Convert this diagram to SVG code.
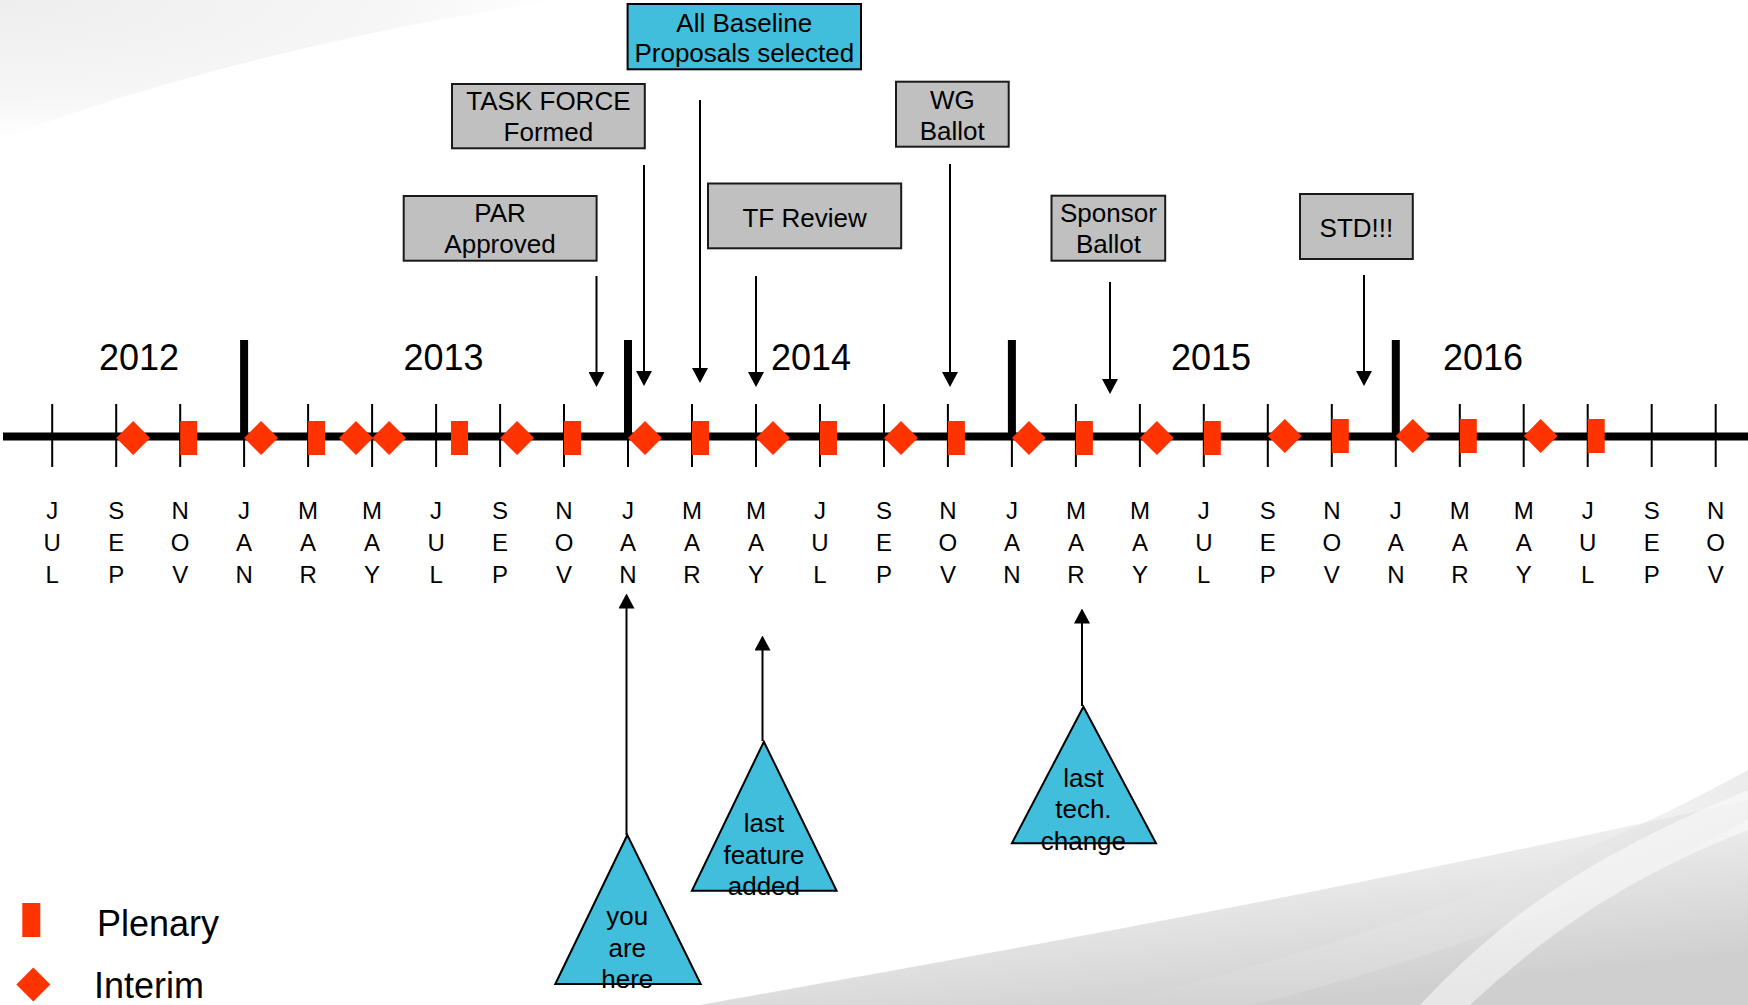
<svg xmlns="http://www.w3.org/2000/svg" xmlns:xlink="http://www.w3.org/1999/xlink" width="1748" height="1005" viewBox="0 0 1748 1005">
<defs>
<style>
text{font-family:"Liberation Sans",Arial,sans-serif;fill:#000}
.mon{font-size:24px;text-anchor:middle}
.yr{font-size:36px;text-anchor:middle}
.bt{font-size:26px;text-anchor:middle}
.leg{font-size:36px}
.box{fill:#C0C0C0;stroke:#1a1a1a;stroke-width:2}
.cyan{fill:#41BEDC;stroke:#000;stroke-width:2}
.arr{stroke:#000;stroke-width:2;fill:none;marker-end:url(#ah)}
.tick{stroke:#000;stroke-width:2}
.ybar{stroke:#000;stroke-width:8}
.red{fill:#FF3300}
</style>
<marker id="ah" markerUnits="userSpaceOnUse" markerWidth="15" markerHeight="16" viewBox="0 0 15 16" refX="5" refY="8" orient="auto">
<path d="M0,0 L15,8 L0,16 Z" fill="#000"/>
</marker>
<path id="dia" class="red" d="M0,-17 L17,0 L0,17 L-17,0 Z"/>
<rect id="plen" class="red" x="0" y="-17" width="17" height="34"/>
<radialGradient id="bg1" cx="0" cy="0" r="1" gradientUnits="objectBoundingBox">
<stop offset="0" stop-color="#eeeeee"/>
<stop offset="0.7" stop-color="#f6f6f6"/>
<stop offset="1" stop-color="#ffffff"/>
</radialGradient>
<linearGradient id="bg2" x1="0" y1="0" x2="0.55" y2="1">
<stop offset="0" stop-color="#ffffff" stop-opacity="0"/>
<stop offset="0.5" stop-color="#ececec"/>
<stop offset="1" stop-color="#cfcfcf"/>
</linearGradient>
<linearGradient id="bg3" x1="0" y1="0" x2="1" y2="0">
<stop offset="0" stop-color="#ffffff" stop-opacity="0"/>
<stop offset="1" stop-color="#d8d8d8"/>
</linearGradient>
</defs>
<g id="background">
<rect x="0" y="0" width="1748" height="1005" fill="#fff"/>
<path d="M0,0 L560,0 C380,25 150,80 0,140 Z" fill="url(#bg1)"/>
<path d="M700,1005 C950,960 1300,900 1748,800 L1748,1005 Z" fill="url(#bg2)"/>
<path d="M1100,1005 C1300,960 1550,880 1748,770 L1748,820 C1600,900 1400,970 1250,1005 Z" fill="url(#bg3)" opacity="0.5"/>
<path d="M1420,1005 C1500,920 1580,860 1748,790 L1748,830 C1620,880 1540,940 1470,1005 Z" fill="#ffffff" opacity="0.5"/>
</g>
<g id="timeline">
<line x1="3" y1="436.5" x2="1748" y2="436.5" stroke="#000" stroke-width="8"/>
<g id="ticks">
<line class="tick" x1="52.2" y1="404" x2="52.2" y2="467"/>
<line class="tick" x1="116.2" y1="404" x2="116.2" y2="467"/>
<line class="tick" x1="180.2" y1="404" x2="180.2" y2="467"/>
<line class="tick" x1="244.1" y1="404" x2="244.1" y2="467"/>
<line class="tick" x1="308.1" y1="404" x2="308.1" y2="467"/>
<line class="tick" x1="372.1" y1="404" x2="372.1" y2="467"/>
<line class="tick" x1="436.1" y1="404" x2="436.1" y2="467"/>
<line class="tick" x1="500.1" y1="404" x2="500.1" y2="467"/>
<line class="tick" x1="564" y1="404" x2="564" y2="467"/>
<line class="tick" x1="628" y1="404" x2="628" y2="467"/>
<line class="tick" x1="692" y1="404" x2="692" y2="467"/>
<line class="tick" x1="756" y1="404" x2="756" y2="467"/>
<line class="tick" x1="820" y1="404" x2="820" y2="467"/>
<line class="tick" x1="884" y1="404" x2="884" y2="467"/>
<line class="tick" x1="947.9" y1="404" x2="947.9" y2="467"/>
<line class="tick" x1="1011.9" y1="404" x2="1011.9" y2="467"/>
<line class="tick" x1="1075.9" y1="404" x2="1075.9" y2="467"/>
<line class="tick" x1="1139.9" y1="404" x2="1139.9" y2="467"/>
<line class="tick" x1="1203.8" y1="404" x2="1203.8" y2="467"/>
<line class="tick" x1="1267.8" y1="404" x2="1267.8" y2="467"/>
<line class="tick" x1="1331.8" y1="404" x2="1331.8" y2="467"/>
<line class="tick" x1="1395.8" y1="404" x2="1395.8" y2="467"/>
<line class="tick" x1="1459.8" y1="404" x2="1459.8" y2="467"/>
<line class="tick" x1="1523.7" y1="404" x2="1523.7" y2="467"/>
<line class="tick" x1="1587.7" y1="404" x2="1587.7" y2="467"/>
<line class="tick" x1="1651.7" y1="404" x2="1651.7" y2="467"/>
<line class="tick" x1="1715.7" y1="404" x2="1715.7" y2="467"/>
</g>
<g id="yearbars">
<line class="ybar" x1="244.1" y1="340" x2="244.1" y2="437"/>
<line class="ybar" x1="628" y1="340" x2="628" y2="437"/>
<line class="ybar" x1="1011.9" y1="340" x2="1011.9" y2="437"/>
<line class="ybar" x1="1395.8" y1="340" x2="1395.8" y2="437"/>
</g>
<g id="years">
<text class="yr" x="139" y="370">2012</text>
<text class="yr" x="443.5" y="370">2013</text>
<text class="yr" x="811" y="370">2014</text>
<text class="yr" x="1211" y="370">2015</text>
<text class="yr" x="1483" y="370">2016</text>
</g>
<g id="months">
<text class="mon" y="519"><tspan x="52.2">J</tspan><tspan x="52.2" dy="32">U</tspan><tspan x="52.2" dy="32">L</tspan></text>
<text class="mon" y="519"><tspan x="116.2">S</tspan><tspan x="116.2" dy="32">E</tspan><tspan x="116.2" dy="32">P</tspan></text>
<text class="mon" y="519"><tspan x="180.2">N</tspan><tspan x="180.2" dy="32">O</tspan><tspan x="180.2" dy="32">V</tspan></text>
<text class="mon" y="519"><tspan x="244.1">J</tspan><tspan x="244.1" dy="32">A</tspan><tspan x="244.1" dy="32">N</tspan></text>
<text class="mon" y="519"><tspan x="308.1">M</tspan><tspan x="308.1" dy="32">A</tspan><tspan x="308.1" dy="32">R</tspan></text>
<text class="mon" y="519"><tspan x="372.1">M</tspan><tspan x="372.1" dy="32">A</tspan><tspan x="372.1" dy="32">Y</tspan></text>
<text class="mon" y="519"><tspan x="436.1">J</tspan><tspan x="436.1" dy="32">U</tspan><tspan x="436.1" dy="32">L</tspan></text>
<text class="mon" y="519"><tspan x="500.1">S</tspan><tspan x="500.1" dy="32">E</tspan><tspan x="500.1" dy="32">P</tspan></text>
<text class="mon" y="519"><tspan x="564">N</tspan><tspan x="564" dy="32">O</tspan><tspan x="564" dy="32">V</tspan></text>
<text class="mon" y="519"><tspan x="628">J</tspan><tspan x="628" dy="32">A</tspan><tspan x="628" dy="32">N</tspan></text>
<text class="mon" y="519"><tspan x="692">M</tspan><tspan x="692" dy="32">A</tspan><tspan x="692" dy="32">R</tspan></text>
<text class="mon" y="519"><tspan x="756">M</tspan><tspan x="756" dy="32">A</tspan><tspan x="756" dy="32">Y</tspan></text>
<text class="mon" y="519"><tspan x="820">J</tspan><tspan x="820" dy="32">U</tspan><tspan x="820" dy="32">L</tspan></text>
<text class="mon" y="519"><tspan x="884">S</tspan><tspan x="884" dy="32">E</tspan><tspan x="884" dy="32">P</tspan></text>
<text class="mon" y="519"><tspan x="947.9">N</tspan><tspan x="947.9" dy="32">O</tspan><tspan x="947.9" dy="32">V</tspan></text>
<text class="mon" y="519"><tspan x="1011.9">J</tspan><tspan x="1011.9" dy="32">A</tspan><tspan x="1011.9" dy="32">N</tspan></text>
<text class="mon" y="519"><tspan x="1075.9">M</tspan><tspan x="1075.9" dy="32">A</tspan><tspan x="1075.9" dy="32">R</tspan></text>
<text class="mon" y="519"><tspan x="1139.9">M</tspan><tspan x="1139.9" dy="32">A</tspan><tspan x="1139.9" dy="32">Y</tspan></text>
<text class="mon" y="519"><tspan x="1203.8">J</tspan><tspan x="1203.8" dy="32">U</tspan><tspan x="1203.8" dy="32">L</tspan></text>
<text class="mon" y="519"><tspan x="1267.8">S</tspan><tspan x="1267.8" dy="32">E</tspan><tspan x="1267.8" dy="32">P</tspan></text>
<text class="mon" y="519"><tspan x="1331.8">N</tspan><tspan x="1331.8" dy="32">O</tspan><tspan x="1331.8" dy="32">V</tspan></text>
<text class="mon" y="519"><tspan x="1395.8">J</tspan><tspan x="1395.8" dy="32">A</tspan><tspan x="1395.8" dy="32">N</tspan></text>
<text class="mon" y="519"><tspan x="1459.8">M</tspan><tspan x="1459.8" dy="32">A</tspan><tspan x="1459.8" dy="32">R</tspan></text>
<text class="mon" y="519"><tspan x="1523.7">M</tspan><tspan x="1523.7" dy="32">A</tspan><tspan x="1523.7" dy="32">Y</tspan></text>
<text class="mon" y="519"><tspan x="1587.7">J</tspan><tspan x="1587.7" dy="32">U</tspan><tspan x="1587.7" dy="32">L</tspan></text>
<text class="mon" y="519"><tspan x="1651.7">S</tspan><tspan x="1651.7" dy="32">E</tspan><tspan x="1651.7" dy="32">P</tspan></text>
<text class="mon" y="519"><tspan x="1715.7">N</tspan><tspan x="1715.7" dy="32">O</tspan><tspan x="1715.7" dy="32">V</tspan></text>
</g>
<g id="meetings">
<use href="#dia" x="133.2" y="438"/>
<use href="#plen" x="180.2" y="438"/>
<use href="#dia" x="261.1" y="438"/>
<use href="#plen" x="308.1" y="438"/>
<use href="#dia" x="356" y="438"/>
<use href="#dia" x="389.1" y="438"/>
<use href="#plen" x="451" y="438"/>
<use href="#dia" x="517.1" y="438"/>
<use href="#plen" x="564" y="438"/>
<use href="#dia" x="645" y="438"/>
<use href="#plen" x="692" y="438"/>
<use href="#dia" x="773" y="438"/>
<use href="#plen" x="820" y="438"/>
<use href="#dia" x="901" y="438"/>
<use href="#plen" x="947.9" y="438"/>
<use href="#dia" x="1028.9" y="438"/>
<use href="#plen" x="1075.9" y="438"/>
<use href="#dia" x="1156.9" y="438"/>
<use href="#plen" x="1203.8" y="438"/>
<use href="#dia" x="1284.8" y="436"/>
<use href="#plen" x="1331.8" y="436"/>
<use href="#dia" x="1412.8" y="436"/>
<use href="#plen" x="1459.8" y="436"/>
<use href="#dia" x="1540.7" y="436"/>
<use href="#plen" x="1587.7" y="436"/>
</g>
</g>
<g id="connectors">
<line class="arr" x1="596.5" y1="276" x2="596.5" y2="377"/>
<line class="arr" x1="644" y1="165" x2="644" y2="376"/>
<line class="arr" x1="700" y1="100" x2="700" y2="373"/>
<line class="arr" x1="756" y1="276" x2="756" y2="377"/>
<line class="arr" x1="950" y1="164" x2="950" y2="377"/>
<line class="arr" x1="1110" y1="282" x2="1110" y2="384"/>
<line class="arr" x1="1364" y1="275" x2="1364" y2="376"/>
<line class="arr" x1="626.5" y1="835" x2="626.5" y2="603.5"/>
<line class="arr" x1="762.5" y1="741" x2="762.5" y2="645.5"/>
<line class="arr" x1="1082" y1="706" x2="1082" y2="618.5"/>
</g>
<g id="node-par">
<rect class="box" x="403.7" y="196" width="192.9" height="64.7"/>
<text class="bt" x="500" y="222">PAR</text>
<text class="bt" x="500" y="252.5">Approved</text>
</g>
<g id="node-taskforce">
<rect class="box" x="452" y="84" width="192.8" height="64.3"/>
<text class="bt" x="548.4" y="110">TASK FORCE</text>
<text class="bt" x="548.4" y="141">Formed</text>
</g>
<g id="node-baseline">
<rect class="cyan" x="627.6" y="4" width="233.4" height="65.3"/>
<text class="bt" x="744.3" y="31.5">All Baseline</text>
<text class="bt" x="744.3" y="61.5">Proposals selected</text>
</g>
<g id="node-tfreview">
<rect class="box" x="708" y="183.5" width="193.2" height="64.8"/>
<text class="bt" x="804.6" y="226.5">TF Review</text>
</g>
<g id="node-wgballot">
<rect class="box" x="896" y="81.7" width="112.7" height="65"/>
<text class="bt" x="952.3" y="108.5">WG</text>
<text class="bt" x="952.3" y="140">Ballot</text>
</g>
<g id="node-sponsor">
<rect class="box" x="1051.5" y="195.7" width="113.7" height="65"/>
<text class="bt" x="1108.4" y="222">Sponsor</text>
<text class="bt" x="1108.4" y="253">Ballot</text>
</g>
<g id="node-std">
<rect class="box" x="1300" y="194" width="112.8" height="65"/>
<text class="bt" x="1356.4" y="236.5">STD!!!</text>
</g>
<g id="node-youarehere">
<polygon class="cyan" points="627.3,835 555.3,984 700.7,984"/>
<text class="bt" x="627.3" y="925">you</text>
<text class="bt" x="627.3" y="956.5">are</text>
<text class="bt" x="627.3" y="988">here</text>
</g>
<g id="node-lastfeature">
<polygon class="cyan" points="763.9,741.7 691.9,890.7 836.6,890.7"/>
<text class="bt" x="763.9" y="832">last</text>
<text class="bt" x="763.9" y="863.5">feature</text>
<text class="bt" x="763.9" y="895">added</text>
</g>
<g id="node-lasttech">
<polygon class="cyan" points="1083.4,706.7 1011.9,843.3 1156,843.3"/>
<text class="bt" x="1083.4" y="786.5">last</text>
<text class="bt" x="1083.4" y="818">tech.</text>
<text class="bt" x="1083.4" y="849.5">change</text>
</g>
<g id="legend">
<rect class="red" x="22.3" y="903" width="18" height="34"/>
<text class="leg" x="97" y="936">Plenary</text>
<use href="#dia" x="33.3" y="984.5"/>
<text class="leg" x="94" y="998">Interim</text>
</g>
</svg>
